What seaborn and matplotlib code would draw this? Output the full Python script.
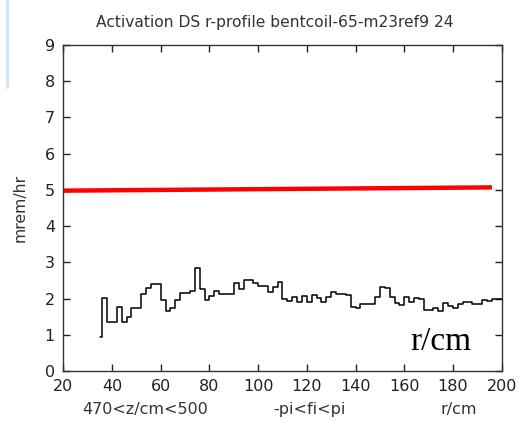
import numpy as np
import pandas as pd
from matplotlib import pyplot as plt
from matplotlib.lines import Line2D
import seaborn as sns

# histogram bins: one short bin 35-36, then 2 cm bins from 36 to 200
r_start = 35
bin_width = 2
dose = [0.95,
        2.02, 1.36, 1.36, 1.78, 1.36, 1.48, 1.74, 1.74, 2.12, 2.29,
        2.41, 2.41, 1.96, 1.66, 1.73, 1.96, 2.15, 2.15, 2.22, 2.85,
        2.26, 1.96, 2.06, 2.20, 2.13, 2.13, 2.13, 2.44, 2.26, 2.51,
        2.51, 2.42, 2.35, 2.35, 2.19, 2.31, 2.45, 2.00, 1.92, 2.05,
        1.90, 2.07, 1.90, 2.10, 2.01, 1.90, 2.04, 2.19, 2.13, 2.13,
        2.10, 1.78, 1.73, 1.84, 1.84, 1.84, 2.05, 2.31, 2.28, 2.03,
        1.87, 1.82, 2.05, 1.90, 2.01, 1.98, 1.68, 1.68, 1.75, 1.67,
        1.87, 1.80, 1.75, 1.84, 1.91, 1.91, 1.84, 1.84, 1.96, 1.93,
        1.98, 1.98]

# red limit line
limit_r = [20, 196]
limit_dose = [4.98, 5.07]

x_ticks = [20, 40, 60, 80, 100, 120, 140, 160, 180, 200]
y_ticks = [0, 1, 2, 3, 4, 5, 6, 7, 8, 9]

edges = np.concatenate([[r_start], np.arange(36, 200 + bin_width, bin_width)])
hist_df = pd.DataFrame({'r': edges, 'dose': dose + [dose[-1]]})
limit_df = pd.DataFrame({'r': limit_r, 'dose': limit_dose})

sns.set_style("ticks")
plt.rcParams['font.family'] = ['DejaVu Sans']

fig = plt.figure(figsize=(5.2, 4.25), dpi=100)
ax = fig.add_axes([0.1217, 0.127, 0.8431, 0.767])

sns.lineplot(data=hist_df, x='r', y='dose', ax=ax, color='black', linewidth=1.1,
             drawstyle='steps-post', estimator=None, sort=False)
sns.lineplot(data=limit_df, x='r', y='dose', ax=ax, color='#ff0000', linewidth=3.2,
             estimator=None, sort=False, solid_capstyle='butt')

ax.set_xlim(20, 200)
ax.set_ylim(0, 9)
ax.set_xticks(x_ticks)
ax.set_yticks(y_ticks)
ax.tick_params(direction='in', length=5, width=1, labelsize=11.5, colors='#222222',
               top=True, right=True, labeltop=False, labelright=False, pad=6)
for s in ax.spines.values():
    s.set_visible(True)
    s.set_color('#333333')
    s.set_linewidth(1.0)

ax.set_xlabel('')
ax.set_ylabel('mrem/hr', fontsize=11.3, color='#333333', labelpad=12)
ax.set_title('Activation DS r-profile bentcoil-65-m23ref9 24', fontsize=11.2,
             color='#333333', pad=13, x=0.483)

# second line of labels under the x axis
fig.text(0.279, 0.037, '470<z/cm<500', ha='center', va='center', fontsize=11.5, color='#333333')
fig.text(0.596, 0.037, '-pi<fi<pi', ha='center', va='center', fontsize=11.5, color='#333333')
fig.text(0.883, 0.037, 'r/cm', ha='center', va='center', fontsize=11.5, color='#333333')

ax.text(175, 0.58, 'r/cm', ha='center', va='baseline', fontsize=24,
        family='Liberation Serif', color='black')

# light blue margin line from the original screenshot
fig.add_artist(Line2D([0.014, 0.014], [1.0, 0.795], color='#cde6f7', linewidth=2,
                      transform=fig.transFigure))

fig.savefig('out.png', dpi=100, facecolor='white')
